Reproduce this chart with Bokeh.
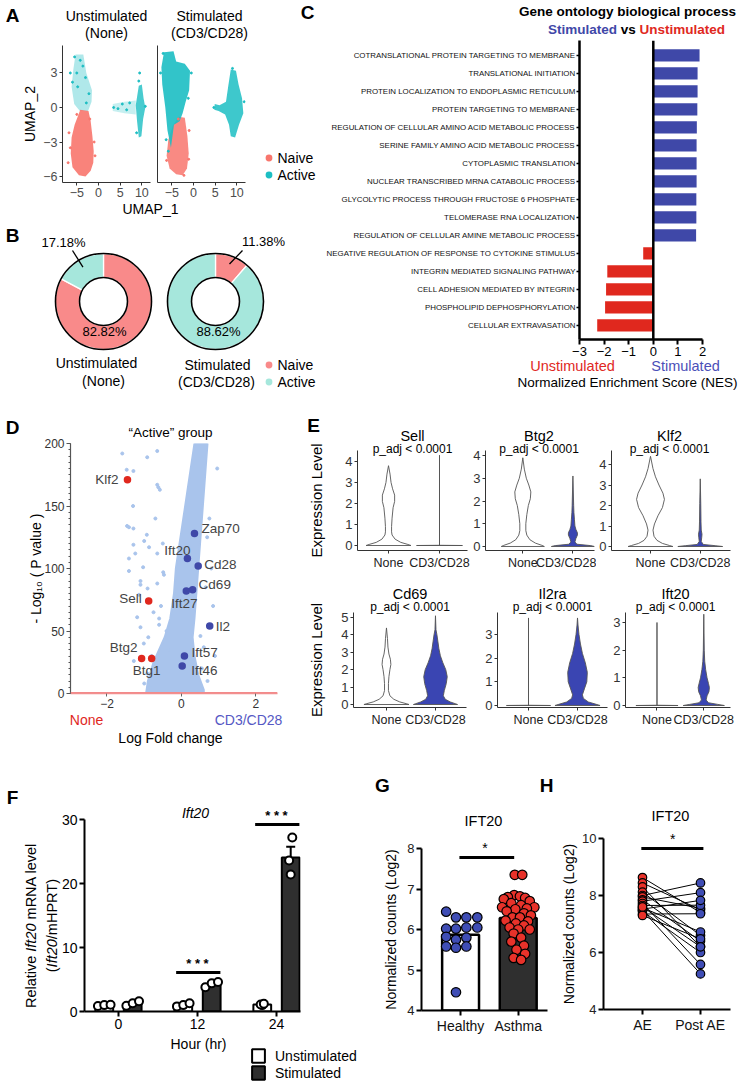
import math
from bokeh.plotting import figure
from bokeh.models import (Range1d, FixedTicker, Label, Legend, LegendItem, Span,
                          Whisker, ColumnDataSource, TeeHead, GridBox)
from bokeh.embed import file_html
from bokeh.resources import INLINE
from bokeh.transform import dodge

FONT = "Liberation Sans"
NAN = float("nan")

# ======================= DATA =======================
# ---- A: UMAP cluster outlines (UMAP_1, UMAP_2) ----
umap_xticks = [-5, 0, 5, 10]
umap_yticks = [-6, -3, 0, 3]
un_naive_u = [-4.2, -2.3, -1.8, -1.4, -1.1, -1.2, -1.8, -3.0, -4.5, -6.0, -6.4, -6.2, -5.5, -4.8]
un_naive_v = [-0.2, -0.3, -1.2, -2.5, -3.8, -4.8, -5.5, -6.0, -5.9, -5.2, -4.0, -2.6, -1.5, -0.8]
un_act_u = [-5.3, -3.5, -2.8, -1.5, -1.6, -2.4, -4.3, -5.6, -6.2, -5.8]
un_act_v = [4.6, 4.6, 3.0, 1.5, 0.5, -0.3, -0.3, 0.3, 1.8, 3.3]
un_act2_u = [9.3, 10.0, 10.4, 10.8, 10.3, 9.9, 9.3, 8.9, 8.6]
un_act2_v = [1.9, 2.0, 0.8, 0.0, -1.0, -2.5, -2.6, -1.2, 0.2]
un_streak_u = [3.3, 6.0, 8.6, 8.6, 6.0, 3.3]
un_streak_v = [0.3, 0.5, 0.6, -0.6, -0.5, -0.3]
st_naive_u = [-3.4, -2.0, -1.4, -1.1, -1.5, -2.5, -4.0, -5.5, -6.2, -5.8, -4.8]
st_naive_v = [-0.8, -0.9, -2.5, -4.0, -5.3, -5.9, -5.8, -5.3, -4.2, -2.8, -1.6]
st_act_u = [-6.8, -4.6, -4.0, -2.0, -0.8, -1.0, -1.8, -2.5, -3.2, -4.5, -5.2, -6.0, -6.5, -7.2, -7.4]
st_act_v = [4.8, 4.9, 4.0, 3.8, 3.2, 1.5, 0.5, -0.5, -1.2, -1.5, -3.5, -2.0, 0.0, 2.0, 3.5]
st_act2_u = [8.6, 9.8, 10.4, 11.2, 11.5, 10.5, 9.6, 8.6, 8.2, 7.3, 5.8, 4.8, 4.9, 6.0, 7.5, 8.0]
st_act2_v = [3.3, 3.2, 2.0, 0.8, -0.5, -1.5, -2.6, -2.5, -1.5, -0.6, -0.3, -0.2, 0.3, 0.2, 0.5, 1.8]
un_act_pts_u = [-5.5, -4.2, -3.6, -5.0, -3.0, -2.2, -4.8, -6.0, -2.8, -6.5, 3.5, 4.5, 5.5, 6.5, 7.2, 9.3, 8.8, 10.8, 9.5]
un_act_pts_v = [4.4, 4.1, 3.6, 3.0, 2.6, 1.2, 1.8, 2.2, 0.4, 3.0, 0.0, -0.1, 0.3, -0.2, 0.4, 2.3, -2.2, 0.1, 3.0]
un_naive_pts_u = [-6.5, -6.8, -1.0, -0.8, -5.0, -2.0, -7.0]
un_naive_pts_v = [-3.5, -2.2, -3.0, -4.2, -0.6, -1.0, -4.8]
st_act_pts_u = [-7.6, -7.0, -0.5, -1.2, 4.7, 11.7, 9.0, -6.3, -5.8]
st_act_pts_v = [3.0, 4.7, 3.0, 0.8, 0.0, 0.5, 3.4, -2.8, -3.8]
st_naive_pts_u = [-1.0, -1.1, -6.2, -2.2, -3.5]
st_naive_pts_v = [-2.0, -4.5, -4.6, -5.9, -1.0]
cell_types = ["Naive", "Active"]

# ---- B: donut percentages (Naive, Active) ----
unstim_pct = [82.82, 17.18]
stim_pct = [11.38, 88.62]

# ---- C: GSEA ----
go_terms = ["COTRANSLATIONAL PROTEIN TARGETING TO MEMBRANE", "TRANSLATIONAL INITIATION",
            "PROTEIN LOCALIZATION TO ENDOPLASMIC RETICULUM", "PROTEIN TARGETING TO MEMBRANE",
            "REGULATION OF CELLULAR AMINO ACID METABOLIC PROCESS",
            "SERINE FAMILY AMINO ACID METABOLIC PROCESS", "CYTOPLASMIC TRANSLATION",
            "NUCLEAR TRANSCRIBED MRNA CATABOLIC PROCESS",
            "GLYCOLYTIC PROCESS THROUGH FRUCTOSE 6 PHOSPHATE", "TELOMERASE RNA LOCALIZATION",
            "REGULATION OF CELLULAR AMINE METABOLIC PROCESS",
            "NEGATIVE REGULATION OF RESPONSE TO CYTOKINE STIMULUS",
            "INTEGRIN MEDIATED SIGNALING PATHWAY", "CELL ADHESION MEDIATED BY INTEGRIN",
            "PHOSPHOLIPID DEPHOSPHORYLATION", "CELLULAR EXTRAVASATION"]
nes = [1.88, 1.80, 1.80, 1.79, 1.77, 1.76, 1.76, 1.76, 1.75, 1.75, 1.74,
       -0.41, -1.87, -1.92, -1.96, -2.28]
nes_ticks = [-3, -2, -1, 0, 1, 2]

# ---- D: volcano ----
volc_band_x = [-0.95, -0.9, -0.75, -0.45, -0.3, -0.2, -0.15, -0.05, 0.05, 0.15, 0.25, 0.35,
               0.7, 0.65, 0.6, 0.55, 0.5, 0.45, 0.4, 0.35, 0.3, 0.35, 0.45, 0.6, 0.6]
volc_band_y = [0, 10, 25, 45, 60, 80, 100, 120, 140, 160, 180, 200,
               200, 180, 160, 140, 120, 100, 80, 60, 45, 30, 15, 3, 0]
volc_bg_x = [-1.59, -0.65, -0.92, -1.47, -1.29, -0.65, -0.62, -0.58, -1.41, -1.29, -0.93, -1.0,
             -1.29, -0.87, -1.24, -1.41, -1.03, -0.65, -0.47, 0.96, -1.41, -1.1, -1.14, -1.46,
             -0.65, -0.49, 0.69, -1.1, -0.91, -1.1, -1.01, -1.19, -0.92, -1.28, -0.89, 0.51,
             0.6, 0.42, -0.55, -0.75, -0.8, -1.3, -0.7, -0.6, 0.8, 0.75, 0.85, 0.9, -0.5, -0.6,
             -1.0, -0.85, -0.7, 0.55, 0.7, -0.35, -0.4, 0.65]
volc_bg_y = [192, 194, 189, 179, 178, 167, 165, 163, 133, 132, 127, 122,
             119, 117, 112, 108, 101, 112, 95, 180, 98, 87, 79, 134,
             88, 97, 125, 90, 84, 53, 40, 61, 16, 26, 45, 46,
             37, 13, 70, 65, 30, 150, 140, 60, 100, 140, 70, 30, 120, 55,
             8, 5, 12, 20, 10, 35, 50, 85]
volc_genes = ["Klf2", "Sell", "Btg2", "Btg1", "Zap70", "Ift20", "Cd28", "Cd69",
              "Ift27", "Il2", "Ift57", "Ift46"]
volc_lfc = [-1.45, -0.88, -1.07, -0.80, 0.35, 0.16, 0.45, 0.30, 0.13, 0.76, 0.08, 0.02]
volc_p = [171, 74, 28, 28, 128, 108, 102, 83, 82, 54, 30, 22]
volc_dir = ["down", "down", "down", "down", "up", "up", "up", "up", "up", "up", "up", "up"]

# ---- E: violin outlines (expression level, half width) ----
sell_none_y = [0, 0.05, 0.15, 0.3, 0.5, 0.65, 0.9, 1.3, 1.8, 2.1, 2.4, 2.7, 3.0, 3.4, 3.8]
sell_none_w = [0.44, 0.38, 0.24, 0.13, 0.07, 0.06, 0.06, 0.07, 0.09, 0.12, 0.12, 0.08, 0.05, 0.03, 0.0]
sell_stim_y = [0, 0.01, 4.3]
sell_stim_w = [0.45, 0.0, 0.0]
btg2_none_y = [0, 0.05, 0.15, 0.3, 0.5, 0.7, 1.0, 1.4, 1.8, 2.1, 2.4, 2.7, 3.0, 3.4, 3.9]
btg2_none_w = [0.43, 0.38, 0.25, 0.14, 0.08, 0.06, 0.06, 0.08, 0.11, 0.15, 0.16, 0.12, 0.07, 0.03, 0.0]
btg2_stim_y = [0, 0.04, 0.1, 0.2, 0.35, 0.5, 0.6, 0.75, 0.9, 1.2, 1.5, 1.8, 3.1]
btg2_stim_w = [0.43, 0.35, 0.08, 0.04, 0.06, 0.09, 0.09, 0.06, 0.04, 0.03, 0.02, 0.015, 0.0]
klf2_none_y = [0, 0.05, 0.15, 0.3, 0.5, 0.8, 1.1, 1.5, 1.9, 2.3, 2.6, 3.0, 3.4, 3.8, 4.4]
klf2_none_w = [0.45, 0.38, 0.24, 0.13, 0.07, 0.05, 0.08, 0.15, 0.24, 0.28, 0.25, 0.17, 0.1, 0.05, 0.0]
klf2_stim_y = [0, 0.04, 0.1, 0.25, 0.45, 0.6, 0.8, 1.2, 2.1, 3.3]
klf2_stim_w = [0.45, 0.3, 0.06, 0.02, 0.03, 0.035, 0.02, 0.015, 0.01, 0.0]
cd69_none_y = [0, 0.05, 0.15, 0.3, 0.5, 0.8, 1.2, 1.6, 2.0, 2.3, 2.6, 2.9, 3.3, 3.8, 4.4]
cd69_none_w = [0.46, 0.4, 0.27, 0.15, 0.07, 0.04, 0.04, 0.05, 0.07, 0.09, 0.08, 0.05, 0.03, 0.02, 0.0]
cd69_stim_y = [0, 0.05, 0.15, 0.3, 0.5, 0.8, 1.2, 1.6, 2.0, 2.4, 2.8, 3.2, 3.6, 4.0, 4.3, 5.1]
cd69_stim_w = [0.45, 0.4, 0.3, 0.2, 0.16, 0.18, 0.22, 0.24, 0.21, 0.15, 0.1, 0.07, 0.05, 0.03, 0.01, 0.0]
il2ra_none_y = [0, 0.01, 3.7]
il2ra_none_w = [0.45, 0.0, 0.0]
il2ra_stim_y = [0, 0.05, 0.15, 0.3, 0.45, 0.7, 1.0, 1.4, 1.8, 2.2, 2.6, 3.0, 3.4, 3.7]
il2ra_stim_w = [0.46, 0.38, 0.22, 0.12, 0.1, 0.14, 0.19, 0.2, 0.16, 0.1, 0.06, 0.03, 0.01, 0.0]
ift20_none_y = [0, 0.01, 3.0]
ift20_none_w = [0.45, 0.0, 0.0]
ift20_stim_y = [0, 0.04, 0.1, 0.2, 0.35, 0.5, 0.65, 0.8, 1.0, 1.3, 1.6, 2.0, 3.3]
ift20_stim_w = [0.44, 0.3, 0.1, 0.05, 0.07, 0.11, 0.12, 0.1, 0.07, 0.04, 0.02, 0.01, 0.0]
violin_groups = ["None", "CD3/CD28"]

# ---- F: qPCR Ift20 ----
f_hours = ["0", "12", "24"]
f_unstim_reps = [[0.85, 1.0, 1.05], [0.8, 1.0, 1.3], [1.0, 1.1, 1.2]]
f_stim_reps = [[0.9, 1.3, 1.6], [3.8, 4.4, 4.6], [21.4, 23.6, 27.2]]
f_jitter = [[-0.08, 0.0, 0.08], [-0.08, 0.0, 0.08], [0.0, -0.02, 0.02]]
f_sig_group = [1, 2]
f_sig_y = [6.1, 29.2]
f_series = ["Unstimulated", "Stimulated"]

# ---- G: Healthy vs Asthma ----
g_groups = ["Healthy", "Asthma"]
g_healthy = [6.44, 6.30, 6.30, 6.30, 6.02, 6.02, 6.05, 6.05, 5.82, 5.75, 5.80, 5.58, 5.58, 5.55, 4.45]
g_healthy_jit = [-0.25, -0.08, 0.1, 0.29, -0.25, -0.08, 0.1, 0.29, -0.25, -0.08, 0.1, -0.25, 0.1, -0.08, -0.08]
g_asthma = [7.35, 7.35, 6.85, 6.82, 6.80, 6.78, 6.75, 6.70, 6.65, 6.60, 6.55, 6.55, 6.52, 6.50,
            6.45, 6.40, 6.35, 6.30, 6.30, 6.22, 6.20, 6.15, 6.10, 6.05, 6.00, 6.00, 5.90, 5.80,
            5.70, 5.60, 5.50, 5.40, 5.30, 5.25]
g_asthma_jit = [-0.06, 0.07, -0.07, 0.03, -0.18, 0.12, -0.25, 0.2, -0.12, 0.05, 0.28, -0.28, 0.15,
                -0.05, -0.2, 0.1, 0.22, -0.1, 0.03, -0.22, 0.17, -0.04, 0.1, -0.15, 0.0, 0.2, -0.08,
                0.05, -0.12, 0.1, -0.03, 0.12, -0.08, 0.05]
g_sig_y = 7.78

# ---- H: AE vs Post AE (paired) ----
h_groups = ["AE", "Post AE"]
h_ae = [8.63, 8.44, 8.30, 8.12, 8.00, 7.95, 7.85, 7.80, 7.72, 7.65, 7.57, 7.52, 7.48, 7.45, 7.35, 7.30, 7.60]
h_post = [7.40, 7.50, 6.20, 6.60, 8.44, 7.55, 6.40, 8.10, 5.58, 7.66, 6.72, 7.83, 5.25, 6.00, 7.36, 6.48, 6.20]
h_sig_y = 9.65

# ======================= STYLE =======================
NAIVE, ACTIVE = "#F8766D", "#1CBEC3"
NAIVE_L, ACTIVE_L = "#F98A8A", "#A6E7DC"
BLUE, RED = "#3F48A8", "#E0281E"
VIOLIN_BLUE = "#3A45B2"
VOLC_BG = "#A9C4EC"
DARK = "#2F2F2F"
PAGE_W, PAGE_H = 740, 1082

PLACED = []  # (figure, canvas box in page px)


def mk(c, f, xr, yr, axes=True):
    cx0, cy0, cx1, cy1 = c
    fx0, fy0, fx1, fy1 = f
    kw = {} if axes else dict(x_axis_type=None, y_axis_type=None)
    p = figure(width=cx1 - cx0, height=cy1 - cy0, x_range=Range1d(*xr), y_range=Range1d(*yr),
               min_border_left=fx0 - cx0, min_border_right=cx1 - fx1,
               min_border_top=fy0 - cy0, min_border_bottom=cy1 - fy1, frame_align=False,
               output_backend="svg", toolbar_location=None, tools="", **kw)
    if axes:
        p.grid.visible = False
    p.outline_line_color = None
    PLACED.append((p, c))
    return p, (fx0, fy0, fx1, fy1, xr, yr)


def d2p(fr, x, y):
    fx0, fy0, fx1, fy1, (xs, xe), (ys, ye) = fr
    return (fx0 + (x - xs) / (xe - xs) * (fx1 - fx0),
            fy1 - (y - ys) / (ye - ys) * (fy1 - fy0))


# transparent overlay covering the whole page: holds all texts outside plot frames
OV = figure(width=PAGE_W, height=PAGE_H, x_range=Range1d(0, PAGE_W), y_range=Range1d(-PAGE_H, 0),
            x_axis_type=None, y_axis_type=None, min_border_left=0, min_border_right=0,
            min_border_top=0, min_border_bottom=0, frame_align=False, output_backend="svg",
            toolbar_location=None, tools="")
OV.outline_line_color = None
OV.background_fill_alpha = 0
OV.border_fill_alpha = 0


def txt(px, py, text, size=13, color="black", align="center", style="normal", angle=0.0,
        font=FONT, baseline="middle"):
    OV.add_layout(Label(x=px, y=-py, text=text, text_font=font, text_font_size=f"{size}px",
                        text_color=color, text_align=align, text_baseline=baseline,
                        text_font_style=style, angle=angle))


def ax_style(ax, lw=1.0, color="#333333", tick_out=3, tick_w=1.0, size=12, lcolor="#333333",
             standoff=2):
    ax.axis_line_width = lw
    ax.axis_line_color = color
    ax.major_tick_line_width = tick_w
    ax.major_tick_line_color = color
    ax.major_tick_out = tick_out
    ax.major_tick_in = 0
    ax.minor_tick_line_color = None
    ax.major_label_text_font = FONT
    ax.major_label_text_font_size = f"{size}px"
    ax.major_label_text_color = lcolor
    ax.major_label_standoff = standoff
    ax.axis_label_text_font = FONT
    ax.axis_label_text_font_style = "normal"
    ax.axis_label_text_color = "black"


def ov_legend(items, left, bottom, gw, gh, size, standoff):
    lg = Legend(items=items, location=(left, PAGE_H - bottom), orientation="vertical",
                glyph_width=gw, glyph_height=gh, label_height=gh, label_text_font=FONT,
                label_text_font_size=f"{size}px", label_text_color="black",
                label_standoff=standoff, spacing=0, padding=0, margin=0,
                border_line_color=None, background_fill_alpha=0)
    OV.add_layout(lg)


AW = {' ': 278, '(': 333, ')': 333, '/': 278, '0': 556, '2': 556, 'A': 667, 'H': 722, 'I': 278,
      'N': 722, 'P': 667, 'R': 722, 'T': 611, 'a': 556, 'e': 556, 'f': 278, 'i': 222, 'l': 222,
      'm': 833, 't': 278, 'v': 500, 'S': 667, 'U': 722, 'n': 556, 's': 500, 'u': 556, 'd': 556}
BW = {' ': 278, 'S': 667, 't': 333, 'i': 278, 'm': 889, 'u': 611, 'l': 278, 'a': 556, 'e': 556,
      'd': 611, 'v': 556, 's': 556, 'U': 722, 'n': 611}


def tw(s, size, table=AW):
    return sum(table.get(ch, 556) for ch in s) * size / 1000.0


def letter(px, py, t):
    txt(px, py, t, size=19, style="bold")


# ======================= PANEL A =======================
UMAP_XR = (-8.3, 12.0)
UMAP_YR = (-6.52, 5.39)
A1, fA1 = mk((0, 0, 155, 200), (62, 45, 150, 182), UMAP_XR, UMAP_YR)
A2, fA2 = mk((155, 0, 318, 200), (157, 45, 245, 182), UMAP_XR, UMAP_YR)
for p in (A1, A2):
    ax_style(p.xaxis, lw=1, color="#333333", tick_out=3, size=12.5, lcolor="#4d4d4d")
    p.xaxis.ticker = FixedTicker(ticks=umap_xticks)
ax_style(A1.yaxis, lw=1, color="#333333", tick_out=3, size=12.5, lcolor="#4d4d4d")
A1.yaxis.ticker = FixedTicker(ticks=umap_yticks)
A1.yaxis.axis_label = "UMAP_2"
A1.yaxis.axis_label_text_font_size = "14px"
A1.yaxis.axis_label_standoff = 2
ax_style(A2.yaxis, lw=1, color="#333333", tick_out=0, size=12.5, standoff=0)
A2.yaxis.ticker = FixedTicker(ticks=[])

A1.patch(un_act_u, un_act_v, fill_color=ACTIVE, fill_alpha=0.35, line_color=None)
A1.patch(un_streak_u, un_streak_v, fill_color=ACTIVE, fill_alpha=0.25, line_color=None)
A1.patch(un_act2_u, un_act2_v, fill_color=ACTIVE, fill_alpha=0.8, line_color=None)
A1.patch(un_naive_u, un_naive_v, fill_color=NAIVE, fill_alpha=0.9, line_color=None)
A1.scatter(un_act_pts_u, un_act_pts_v, size=2, color=ACTIVE)
A1.scatter(un_naive_pts_u, un_naive_pts_v, size=2, color=NAIVE)
A2.patch(st_naive_u, st_naive_v, fill_color=NAIVE, fill_alpha=0.85, line_color=None)
A2.patch(st_act_u, st_act_v, fill_color=ACTIVE, fill_alpha=0.9, line_color=None)
A2.patch(st_act2_u, st_act2_v, fill_color=ACTIVE, fill_alpha=0.85, line_color=None)
A2.scatter(st_act_pts_u, st_act_pts_v, size=2, color=ACTIVE)
A2.scatter(st_naive_pts_u, st_naive_pts_v, size=2, color=NAIVE)

letter(12, 15, "A")
txt(106, 15, "Unstimulated", size=14)
txt(106, 32, "(None)", size=14)
txt(209, 15, "Stimulated", size=14)
txt(209, 32, "(CD3/CD28)", size=14)
txt(150, 208, "UMAP_1", size=14)
# legend proxies (NaN -> nothing drawn in the plot, only the legend glyph)
pa_n = OV.scatter(x=[NAN], y=[NAN], marker="circle", size=8, fill_color=NAIVE, line_color=None)
pa_a = OV.scatter(x=[NAN], y=[NAN], marker="circle", size=8, fill_color=ACTIVE, line_color=None)
ov_legend([LegendItem(label=cell_types[0], renderers=[pa_n]),
           LegendItem(label=cell_types[1], renderers=[pa_a])], 259.5, 183, 17, 17, 14, 1)

# ======================= PANEL B =======================
B, fB = mk((0, 200, 318, 398), (0, 200, 318, 398), (0, 318), (-398, -200), axes=False)
R_OUT, R_IN = 48, 24


def donut(cx, cy, pcts):
    cum = [0.0]
    for v in pcts:
        cum.append(cum[-1] + v)
    starts = [math.pi / 2 - 2 * math.pi * c / 100 for c in cum[:-1]]
    ends = [math.pi / 2 - 2 * math.pi * c / 100 for c in cum[1:]]
    src = ColumnDataSource(dict(s=starts, e=ends, c=[NAIVE_L, ACTIVE_L]))
    B.annular_wedge(x=cx, y=-cy, inner_radius=R_IN, outer_radius=R_OUT, start_angle="s",
                    end_angle="e", direction="clock", fill_color="c", line_color="white",
                    line_width=1.3, source=src)
    for r in (R_OUT, R_IN):
        B.circle(x=[cx], y=[-cy], radius=r, fill_color=None, line_color="black", line_width=1.6)
    return [(a + b) / 2 for a, b in zip(starts, ends)]


m1 = donut(103, 301, unstim_pct)
m2 = donut(215, 301, stim_pct)
B.line([103 + 40 * math.cos(m1[1]), 72], [-301 + 40 * math.sin(m1[1]), -250],
       line_color="black", line_width=1.3)
B.line([215 + 40 * math.cos(m2[0]), 242], [-301 + 40 * math.sin(m2[0]), -250],
       line_color="black", line_width=1.3)
letter(12, 235, "B")
txt(63, 242, f"{unstim_pct[1]:.2f}%", size=13)
txt(104, 331, f"{unstim_pct[0]:.2f}%", size=13)
txt(263, 241, f"{stim_pct[0]:.2f}%", size=13)
txt(218, 331, f"{stim_pct[1]:.2f}%", size=13)
txt(96, 362, "Unstimulated", size=14)
txt(103, 380, "(None)", size=14)
txt(217, 364, "Stimulated", size=14)
txt(216, 381, "(CD3/CD28)", size=14)
pb_n = OV.scatter(x=[NAN], y=[NAN], marker="circle", size=8, fill_color=NAIVE_L, line_color=None)
pb_a = OV.scatter(x=[NAN], y=[NAN], marker="circle", size=8, fill_color=ACTIVE_L, line_color=None)
ov_legend([LegendItem(label=cell_types[0], renderers=[pb_n]),
           LegendItem(label=cell_types[1], renderers=[pb_a])], 259.5, 390, 17, 17, 14, 1)

# ======================= PANEL C =======================
C, fC = mk((318, 0, 740, 398), (579, 40, 702, 339), (-3, 2), (0.22, 16.83))
n_go = len(go_terms)
go_pos = [n_go - i for i in range(n_go)]
srcC = ColumnDataSource(dict(y=go_pos, r=nes, c=[BLUE if v > 0 else RED for v in nes]))
C.hbar(y="y", left=0, right="r", height=0.68, fill_color="c", line_color=None, source=srcC)
C.add_layout(Span(location=0, dimension="height", line_color="black", line_width=2.5))
ax_style(C.xaxis, lw=2.5, color="black", tick_out=5, tick_w=2, size=13, lcolor="black")
C.xaxis.ticker = FixedTicker(ticks=nes_ticks)
ax_style(C.yaxis, lw=2.5, color="black", tick_out=3, tick_w=1.5, size=7.9, lcolor="#111111",
         standoff=1)
C.yaxis.ticker = FixedTicker(ticks=go_pos)
C.yaxis.major_label_overrides = {pos: t for pos, t in zip(go_pos, go_terms)}
letter(307, 12, "C")
txt(627, 11, "Gene ontology biological process", size=13.5, style="bold")
t1, t2, t3 = "Stimulated", "vs", "Unstimulated"
sp = tw(" ", 13.5, BW)
tot = tw(t1, 13.5, BW) + tw(t2, 13.5, BW) + tw(t3, 13.5, BW) + 2 * sp
x0 = 636 - tot / 2
txt(x0, 29, t1, size=13.5, style="bold", color=BLUE, align="left")
x1 = x0 + tw(t1, 13.5, BW) + sp
txt(x1, 29, t2, size=13.5, style="bold", color="black", align="left")
x2 = x1 + tw(t2, 13.5, BW) + sp
txt(x2, 29, t3, size=13.5, style="bold", color=RED, align="left")
txt(572, 365, "Unstimulated", size=14.5, color=RED)
txt(685, 365, "Stimulated", size=14.5, color="#4B4FB8")
txt(627, 382, "Normalized Enrichment Score (NES)", size=13.5)

# ======================= PANEL D =======================
D, fD = mk((0, 398, 300, 760), (70, 443, 277, 693), (-2.98, 2.58), (0, 200))
ax_style(D.yaxis, lw=1.2, color="#555555", tick_out=4, size=12, lcolor="#333333")
D.yaxis.ticker = FixedTicker(ticks=[0, 50, 100, 150, 200], minor_ticks=list(range(0, 201, 5)))
D.yaxis.minor_tick_line_color = "#555555"
D.yaxis.minor_tick_out = 2
D.yaxis.minor_tick_in = 0
ax_style(D.xaxis, lw=1.5, color="#F29090", tick_out=3, size=12, lcolor="#333333")
D.xaxis.major_tick_line_color = "#666666"
D.xaxis.ticker = FixedTicker(ticks=[-2, 0, 2])
D.patch(volc_band_x, volc_band_y, fill_color=VOLC_BG, line_color=VOLC_BG, line_width=2)
D.scatter(volc_bg_x, volc_bg_y, size=3, color=VOLC_BG)
D.add_layout(Span(location=0.6, dimension="width", line_color="#F28A8A", line_width=1.5))
srcD = ColumnDataSource(dict(x=volc_lfc, y=volc_p,
                             c=[RED if d == "down" else BLUE for d in volc_dir]))
D.scatter("x", "y", size=7.5, fill_color="c", line_color=None, source=srcD)
gene_off = {"Klf2": (-9, 0, "right"), "Sell": (-7, 3, "right"), "Btg2": (-4, 11, "right"),
            "Btg1": (-5, -12, "center"), "Zap70": (7, 5, "left"), "Ift20": (3, 8, "right"),
            "Cd28": (6, 2, "left"), "Cd69": (6, 5, "left"), "Ift27": (-2, -12, "center"),
            "Il2": (6, 0, "left"), "Ift57": (7, 4, "left"), "Ift46": (9, -4, "left")}
for g, x, y in zip(volc_genes, volc_lfc, volc_p):
    dx, dy, al = gene_off[g]
    D.add_layout(Label(x=x, y=y, x_offset=dx, y_offset=dy, text=g, text_font=FONT,
                       text_font_size="13.5px", text_align=al, text_baseline="middle"))
letter(12, 427, "D")
txt(170, 432, "\u201cActive\u201d group", size=13.5)
txt(35, 568, "- Log\u2081\u2080 ( P value )", size=14, angle=math.pi / 2)
txt(86, 719, "None", size=14, color=RED)
txt(248, 719, "CD3/CD28", size=14, color="#5558C4")
txt(170, 737, "Log Fold change", size=14)

# ======================= PANEL E =======================
E_specs = [
    ("Sell", (300, 398, 470, 578), (357, 450, 467, 550), (0.392, 2.549), (-0.238, 4.524), [0, 1, 2, 3, 4],
     (sell_none_y, sell_none_w), (sell_stim_y, sell_stim_w)),
    ("Btg2", (470, 398, 596, 578), (483, 450, 594, 550), (0.255, 2.431), (-0.176, 4.22), [0, 1, 2, 3, 4],
     (btg2_none_y, btg2_none_w), (btg2_stim_y, btg2_stim_w)),
    ("Klf2", (596, 398, 740, 578), (608, 450, 730, 550), (0.216, 2.608), (-0.195, 4.683), [0, 1, 2, 3, 4],
     (klf2_none_y, klf2_none_w), (klf2_stim_y, klf2_stim_w)),
    ("Cd69", (300, 578, 470, 760), (353, 612, 466, 707), (0.327, 2.633), (-0.172, 5.287), [0, 1, 2, 3, 4, 5],
     (cd69_none_y, cd69_none_w), (cd69_stim_y, cd69_stim_w)),
    ("Il2ra", (470, 578, 610, 760), (497, 612, 607, 707), (0.367, 2.612), (-0.085, 3.93), [0, 1, 2, 3],
     (il2ra_none_y, il2ra_none_w), (il2ra_stim_y, il2ra_stim_w)),
    ("Ift20", (610, 578, 740, 760), (620, 612, 730, 707), (0.327, 2.571), (-0.072, 3.362), [0, 1, 2, 3],
     (ift20_none_y, ift20_none_w), (ift20_stim_y, ift20_stim_w)),
]
for k, (gene, cbox, fbox, xr, yr, yt, vn, vs) in enumerate(E_specs):
    p, fr = mk(cbox, fbox, xr, yr)
    ax_style(p.xaxis, lw=1, color="#333333", tick_out=3, size=12.5, lcolor="#222222")
    ax_style(p.yaxis, lw=1, color="#333333", tick_out=3, size=13, lcolor="#333333")
    p.xaxis.ticker = FixedTicker(ticks=[1, 2])
    p.xaxis.major_label_overrides = {1: violin_groups[0], 2: violin_groups[1]}
    p.yaxis.ticker = FixedTicker(ticks=yt)
    for center, (vy, vw), fill in ((1, vn, "white"), (2, vs, VIOLIN_BLUE)):
        xs = [center + w for w in vw] + [center - w for w in reversed(vw)]
        ys = list(vy) + list(reversed(vy))
        p.patch(xs, ys, fill_color=fill, line_color="#555555", line_width=0.9)
    cx = (fbox[0] + fbox[2]) / 2
    ty = 435 if k < 3 else 593
    txt(cx, ty, gene, size=14.5)
    txt(cx, ty + 13, "p_adj < 0.0001", size=12)
    if k in (0, 3):
        p.yaxis.axis_label = "Expression Level"
        p.yaxis.axis_label_text_font_size = "15px"
        p.yaxis.axis_label_standoff = 17 if k == 0 else 13
letter(313, 425, "E")

# ======================= PANEL F =======================
F, fF = mk((0, 760, 380, 1082), (84, 819, 300, 1011), (-0.43, 2.304), (0, 30))
ax_style(F.yaxis, lw=2, color="black", tick_out=5, tick_w=2, size=14, lcolor="black")
ax_style(F.xaxis, lw=2, color="black", tick_out=5, tick_w=2, size=14, lcolor="black")
F.yaxis.ticker = FixedTicker(ticks=[0, 10, 20, 30])
F.xaxis.ticker = FixedTicker(ticks=[0, 1, 2])
F.xaxis.major_label_overrides = {i: h for i, h in enumerate(f_hours)}


def mean(v):
    return sum(v) / len(v)


def sem(v):
    m = mean(v)
    return math.sqrt(sum((a - m) ** 2 for a in v) / (len(v) - 1)) / math.sqrt(len(v))


un_m = [mean(v) for v in f_unstim_reps]
st_m = [mean(v) for v in f_stim_reps]
srcF = ColumnDataSource(dict(x=list(range(len(f_hours))), un=un_m, st=st_m,
                             un_lo=[m - sem(v) for m, v in zip(un_m, f_unstim_reps)],
                             un_hi=[m + sem(v) for m, v in zip(un_m, f_unstim_reps)],
                             st_lo=[m - sem(v) for m, v in zip(st_m, f_stim_reps)],
                             st_hi=[m + sem(v) for m, v in zip(st_m, f_stim_reps)]))
DODGE = 0.18
F.vbar(x=dodge("x", -DODGE, range=F.x_range), top="un", width=0.225, source=srcF,
       fill_color="white", line_color="black", line_width=2)
F.vbar(x=dodge("x", DODGE, range=F.x_range), top="st", width=0.225, source=srcF,
       fill_color=DARK, line_color="black", line_width=2)
for side, lo, hi in ((-DODGE, "un_lo", "un_hi"), (DODGE, "st_lo", "st_hi")):
    F.add_layout(Whisker(source=srcF, base=dodge("x", side, range=F.x_range), lower=lo, upper=hi,
                         line_color="black", line_width=2,
                         upper_head=TeeHead(size=9, line_width=2, line_color="black"),
                         lower_head=TeeHead(size=9, line_width=2, line_color="black")))
fx, fy = [], []
for g, reps in enumerate(f_unstim_reps):
    for j, v in zip(f_jitter[g], reps):
        fx.append(g - DODGE + j)
        fy.append(v)
for g, reps in enumerate(f_stim_reps):
    for j, v in zip(f_jitter[g], reps):
        fx.append(g + DODGE + j)
        fy.append(v)
F.scatter(fx, fy, size=8, fill_color="white", line_color="black", line_width=2)
F.segment(x0=[g - 0.27 for g in f_sig_group], y0=f_sig_y, x1=[g + 0.29 for g in f_sig_group],
          y1=f_sig_y, line_color="black", line_width=3)
for g, y in zip(f_sig_group, f_sig_y):
    px, py = d2p(fF, g, y)
    txt(px, py - 9, "* * *", size=13, style="bold")
letter(12, 797, "F")
txt(195, 812, "Ift20", size=14, style="italic")
txt(198, 1043, "Hour (hr)", size=14)


def vlabel(cx, cy, parts, size):
    # rotated label made of normal / italic pieces; spaces are advanced, not drawn
    total = sum(tw(t, size) for t, s in parts)
    ycur = cy + total / 2
    for t, s in parts:
        lead = len(t) - len(t.lstrip(" "))
        ycur -= tw(" " * lead, size)
        core = t.strip(" ")
        txt(cx, ycur, core, size=size, align="left", style=s, angle=math.pi / 2)
        ycur -= tw(t.lstrip(" "), size)


vlabel(30, 925, [("Relative ", "normal"), ("Ift20", "italic"), (" mRNA level", "normal")], 14.5)
vlabel(51, 925, [("(", "normal"), ("Ift20", "italic"), ("/mHPRT)", "normal")], 14.5)
pf_u = OV.vbar(x=[NAN], top=[NAN], width=1, fill_color="white", line_color="black", line_width=2)
pf_s = OV.vbar(x=[NAN], top=[NAN], width=1, fill_color=DARK, line_color="black", line_width=2)
ov_legend([LegendItem(label=f_series[0], renderers=[pf_u]),
           LegendItem(label=f_series[1], renderers=[pf_s])], 250, 1081, 16, 17, 14, 9)

# ======================= PANEL G =======================
G, fG = mk((380, 760, 555, 1082), (418, 848, 547, 1010), (-0.678, 1.508), (4, 8))
ax_style(G.yaxis, lw=2, color="black", tick_out=5, tick_w=2, size=13, lcolor="#222222")
ax_style(G.xaxis, lw=2, color="black", tick_out=5, tick_w=2, size=14, lcolor="#111111")
G.yaxis.ticker = FixedTicker(ticks=[4, 5, 6, 7, 8])
G.xaxis.ticker = FixedTicker(ticks=[0, 1])
G.xaxis.major_label_overrides = {0: g_groups[0], 1: g_groups[1]}
G.yaxis.axis_label = "Normalized counts (Log2)"
G.yaxis.axis_label_text_font_size = "14px"
G.yaxis.axis_label_standoff = 5
G.vbar(x=[0, 1], bottom=4, top=[mean(g_healthy), mean(g_asthma)], width=0.64,
       fill_color=["white", DARK], line_color="black", line_width=2.5)
G.scatter([0 + j for j in g_healthy_jit], g_healthy, size=9.5, fill_color="#3F4DB5",
          line_color="black", line_width=1.2)
G.scatter([1 + j for j in g_asthma_jit], g_asthma, size=9.5, fill_color="#E8322A",
          line_color="black", line_width=1.2)
G.segment(x0=[-0.02], y0=[g_sig_y], x1=[0.93], y1=[g_sig_y], line_color="black", line_width=3)
px, py = d2p(fG, 0.45, g_sig_y)
txt(px, py - 9, "*", size=14)
letter(382, 785, "G")
letter(546, 785, "H")
txt(483, 820, "IFT20", size=14.5)

# ======================= PANEL H =======================
H, fH = mk((555, 760, 740, 1082), (603, 838, 730, 1009), (-0.672, 1.517), (4, 10))
ax_style(H.yaxis, lw=2, color="black", tick_out=5, tick_w=2, size=13, lcolor="#222222")
ax_style(H.xaxis, lw=2, color="black", tick_out=5, tick_w=2, size=14, lcolor="#111111")
H.yaxis.ticker = FixedTicker(ticks=[4, 6, 8, 10])
H.xaxis.ticker = FixedTicker(ticks=[0, 1])
H.xaxis.major_label_overrides = {0: h_groups[0], 1: h_groups[1]}
H.yaxis.axis_label = "Normalized counts (Log2)"
H.yaxis.axis_label_text_font_size = "14px"
H.yaxis.axis_label_standoff = 2
H.segment(x0=[0] * len(h_ae), y0=h_ae, x1=[1] * len(h_post), y1=h_post,
          line_color="black", line_width=1)
H.scatter([0] * len(h_ae), h_ae, size=8.5, fill_color="#E8322A", line_color="black", line_width=1.2)
H.scatter([1] * len(h_post), h_post, size=8.5, fill_color="#3F4DB5", line_color="black",
          line_width=1.2)
H.segment(x0=[-0.02], y0=[h_sig_y], x1=[1.05], y1=[h_sig_y], line_color="black", line_width=3)
px, py = d2p(fH, 0.52, h_sig_y)
txt(px, py - 9, "*", size=14)
txt(670, 815, "IFT20", size=14.5)

# ======================= LAYOUT (CSS grid, overlay on top) =======================
PLACED.append((OV, (0, 0, PAGE_W, PAGE_H)))
xb = sorted({c[0] for _, c in PLACED} | {c[2] for _, c in PLACED})
yb = sorted({c[1] for _, c in PLACED} | {c[3] for _, c in PLACED})
cols = [f"{b - a}px" for a, b in zip(xb, xb[1:])]
rows = [f"{b - a}px" for a, b in zip(yb, yb[1:])]
children = []
for fig, (cx0, cy0, cx1, cy1) in PLACED:
    r0, c0 = yb.index(cy0), xb.index(cx0)
    children.append((fig, r0, c0, yb.index(cy1) - r0, xb.index(cx1) - c0))
layout = GridBox(children=children, rows=rows, cols=cols)

open("out.html", "w").write(file_html(layout, INLINE, title="Figure"))
